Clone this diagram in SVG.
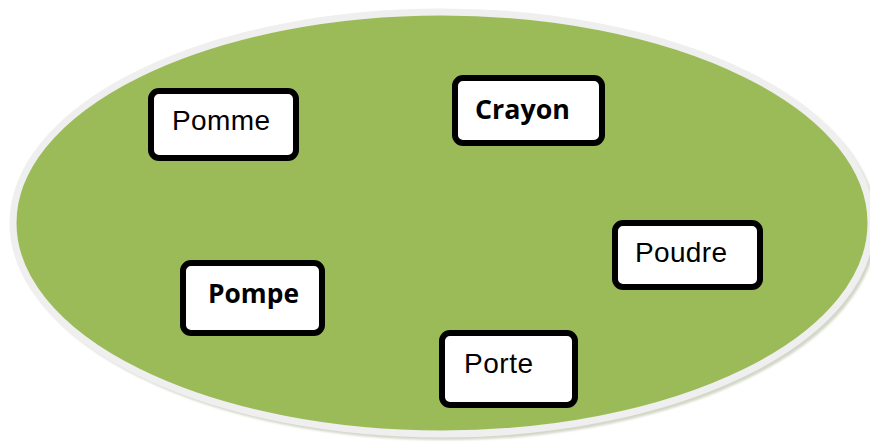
<svg xmlns="http://www.w3.org/2000/svg" width="870" height="443" viewBox="0 0 870 443">
  <defs>
    <filter id="soft" x="-5%" y="-5%" width="110%" height="110%">
      <feGaussianBlur stdDeviation="1.2"/>
    </filter>
  </defs>
  <style>
    .box { fill: #ffffff; stroke: #000000; stroke-width: 6; }
    .reg { font-family: "Liberation Sans", Arial, sans-serif; font-size: 28px; fill: #000000; }
    .bold { font-family: "Open Sans", "Noto Sans", sans-serif; font-weight: bold; font-size: 27px; fill: #000000; }
  </style>

  <!-- backdrop set -->
  <g id="set">
    <ellipse cx="445" cy="226" rx="432" ry="214" fill="#d3d7c8" filter="url(#soft)"/>
    <ellipse cx="442" cy="223" rx="429" ry="211" fill="#9bbb59" stroke="#efefef" stroke-width="7"/>
  </g>

  <g id="connectors"></g>

  <g id="pomme">
    <rect class="box" x="151" y="91" width="145" height="67" rx="8"/>
    <text class="reg" x="172" y="130" textLength="98">Pomme</text>
  </g>

  <g id="crayon">
    <rect class="box" x="455" y="78" width="147" height="65" rx="8"/>
    <text class="bold" x="475" y="119" textLength="95" lengthAdjust="spacingAndGlyphs">Crayon</text>
  </g>

  <g id="poudre">
    <rect class="box" x="615" y="223" width="145" height="64" rx="8"/>
    <text class="reg" x="635" y="262" textLength="92">Poudre</text>
  </g>

  <g id="pompe">
    <rect class="box" x="183" y="263" width="139" height="70" rx="8"/>
    <text class="bold" x="208" y="303" textLength="91" lengthAdjust="spacingAndGlyphs">Pompe</text>
  </g>

  <g id="porte">
    <rect class="box" x="442" y="333" width="133" height="72" rx="8"/>
    <text class="reg" x="464" y="373" textLength="69">Porte</text>
  </g>
</svg>
